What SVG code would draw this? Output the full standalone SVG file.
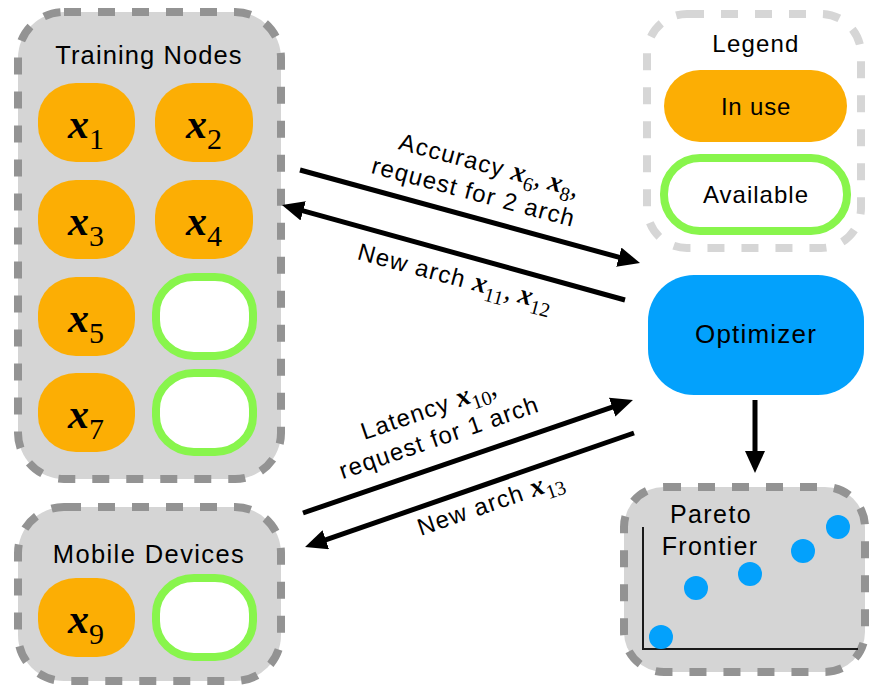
<svg xmlns="http://www.w3.org/2000/svg" width="870" height="686" viewBox="0 0 870 686">
<style>
.grp{fill:#d5d5d5;stroke:#939393;stroke-width:8;stroke-dasharray:17 17}
.leg{fill:#fff;stroke:#d6d6d6;stroke-width:8;stroke-dasharray:17 17}
.use{fill:#fcae04}
.avail{fill:#fff;stroke:#88f54c;stroke-width:8}
.t{font-family:"Liberation Sans",Arial,sans-serif;fill:#000}
.lab{font-size:24px;letter-spacing:1.2px}
.mx{font-family:"Liberation Serif","Times New Roman",serif;font-style:italic;font-weight:bold;letter-spacing:0}
.ms{font-family:"Liberation Serif","Times New Roman",serif;font-style:normal;font-weight:normal;letter-spacing:0}
.conn{stroke:#000;stroke-width:5;fill:none}
.dot{fill:#03a1fc}
</style>
<defs>
<marker id="ah" markerUnits="userSpaceOnUse" viewBox="0 0 22 20" markerWidth="22" markerHeight="20" refX="14" refY="10" orient="auto">
<path d="M0,0 L22,10 L0,20 z" fill="#000"/>
</marker>
</defs>

<g id="training-nodes">
<rect class="grp" x="18" y="12" width="263" height="467" rx="46" ry="46"/>
<text class="t" x="149" y="64" font-size="25.5" letter-spacing="1.1" text-anchor="middle">Training Nodes</text>
</g>
<g id="x1"><rect class="use" x="38" y="83" width="97" height="79" rx="38" ry="36"/>
<text x="86" y="138" text-anchor="middle"><tspan class="mx" font-size="42">x</tspan><tspan class="ms" font-size="30" dy="11">1</tspan></text></g>
<g id="x2"><rect class="use" x="155" y="83" width="98" height="79" rx="38" ry="36"/>
<text x="204" y="138" text-anchor="middle"><tspan class="mx" font-size="42">x</tspan><tspan class="ms" font-size="30" dy="11">2</tspan></text></g>
<g id="x3"><rect class="use" x="38" y="180" width="97" height="79" rx="38" ry="36"/>
<text x="86" y="235" text-anchor="middle"><tspan class="mx" font-size="42">x</tspan><tspan class="ms" font-size="30" dy="11">3</tspan></text></g>
<g id="x4"><rect class="use" x="155" y="180" width="98" height="79" rx="38" ry="36"/>
<text x="204" y="235" text-anchor="middle"><tspan class="mx" font-size="42">x</tspan><tspan class="ms" font-size="30" dy="11">4</tspan></text></g>
<g id="x5"><rect class="use" x="38" y="277" width="97" height="79" rx="38" ry="36"/>
<text x="86" y="332" text-anchor="middle"><tspan class="mx" font-size="42">x</tspan><tspan class="ms" font-size="30" dy="11">5</tspan></text></g>
<g id="slot-train-1"><rect class="avail" x="156" y="277" width="97" height="79" rx="38" ry="36"/></g>
<g id="x7"><rect class="use" x="38" y="373" width="97" height="79" rx="38" ry="36"/>
<text x="86" y="428" text-anchor="middle"><tspan class="mx" font-size="42">x</tspan><tspan class="ms" font-size="30" dy="11">7</tspan></text></g>
<g id="slot-train-2"><rect class="avail" x="156" y="373" width="97" height="79" rx="38" ry="36"/></g>

<g id="mobile-devices">
<rect class="grp" x="18" y="507" width="263" height="174" rx="46" ry="46"/>
<text class="t" x="149" y="563" font-size="25.5" letter-spacing="1.4" text-anchor="middle">Mobile Devices</text>
</g>
<g id="x9"><rect class="use" x="38" y="578" width="97" height="79" rx="38" ry="36"/>
<text x="86" y="633" text-anchor="middle"><tspan class="mx" font-size="42">x</tspan><tspan class="ms" font-size="30" dy="11">9</tspan></text></g>
<g id="slot-mobile"><rect class="avail" x="156" y="578" width="97" height="79" rx="38" ry="36"/></g>

<g id="legend">
<rect class="leg" x="647" y="14" width="214" height="234" rx="40" ry="40"/>
<text class="t" x="756" y="52" font-size="24" letter-spacing="1.2" text-anchor="middle">Legend</text>
<rect class="use" x="664" y="70" width="183" height="72" rx="36" ry="36"/>
<text class="t" x="756" y="115" font-size="24" letter-spacing="0.8" text-anchor="middle">In use</text>
<rect class="avail" x="664" y="158" width="183" height="73" rx="36" ry="36"/>
<text class="t" x="756" y="203" font-size="24" letter-spacing="1" text-anchor="middle">Available</text>
</g>

<g id="optimizer">
<rect x="648" y="275" width="216" height="120" rx="46" ry="46" fill="#03a1fc"/>
<text class="t" x="756" y="343" font-size="26" letter-spacing="1.2" text-anchor="middle">Optimizer</text>
</g>

<g id="pareto-frontier">
<rect class="grp" x="624" y="487" width="241" height="185" rx="40" ry="40"/>
<text class="t" x="711" y="523" font-size="25" letter-spacing="1.4" text-anchor="middle">Pareto</text>
<text class="t" x="710" y="555" font-size="25" letter-spacing="1.3" text-anchor="middle">Frontier</text>
<path d="M643,527 V649 H858" fill="none" stroke="#1a1a1a" stroke-width="2"/>
<circle class="dot" cx="661" cy="637" r="12"/>
<circle class="dot" cx="696" cy="588" r="12"/>
<circle class="dot" cx="750" cy="574" r="12"/>
<circle class="dot" cx="803" cy="551" r="12"/>
<circle class="dot" cx="838" cy="527" r="12"/>
</g>

<g id="connectors">
<line class="conn" x1="300" y1="170" x2="632.3" y2="260.9" marker-end="url(#ah)"/>
<line class="conn" x1="625" y1="300" x2="289.7" y2="207.1" marker-end="url(#ah)"/>
<line class="conn" x1="303" y1="513" x2="625.4" y2="402.6" marker-end="url(#ah)"/>
<line class="conn" x1="634" y1="433" x2="312.6" y2="544.4" marker-end="url(#ah)"/>
<line class="conn" x1="755" y1="400" x2="755" y2="465" marker-end="url(#ah)"/>
<g transform="translate(487,173) rotate(15)">
<text class="t lab" x="0" y="0" text-anchor="middle">Accuracy <tspan class="mx" font-size="28">x</tspan><tspan class="ms" font-size="20" dy="7">6</tspan><tspan class="ms" font-size="28" dy="-7">, </tspan><tspan class="mx" font-size="28">x</tspan><tspan class="ms" font-size="20" dy="7">8</tspan><tspan class="ms" font-size="28" dy="-7">,</tspan></text>
<text class="t lab" x="-8" y="30" text-anchor="middle">request for 2 arch</text>
</g>
<g transform="translate(453,285) rotate(15)">
<text class="t lab" x="0" y="0" text-anchor="middle">New arch <tspan class="mx" font-size="28">x</tspan><tspan class="ms" font-size="20" dy="7">11</tspan><tspan class="ms" font-size="28" dy="-7">, </tspan><tspan class="mx" font-size="28">x</tspan><tspan class="ms" font-size="20" dy="7">12</tspan></text>
</g>
<g transform="translate(431,417) rotate(-19)">
<text class="t lab" x="0" y="0" text-anchor="middle">Latency <tspan class="mx" font-size="28">x</tspan><tspan class="ms" font-size="20" dy="7">10</tspan><tspan class="ms" font-size="28" dy="-7">,</tspan></text>
<text class="t lab" x="1" y="30" text-anchor="middle">request for 1 arch</text>
</g>
<g transform="translate(493,511) rotate(-19)">
<text class="t lab" x="0" y="0" text-anchor="middle">New arch <tspan class="mx" font-size="28">x</tspan><tspan class="ms" font-size="20" dy="7">13</tspan></text>
</g>
</g>
</svg>
